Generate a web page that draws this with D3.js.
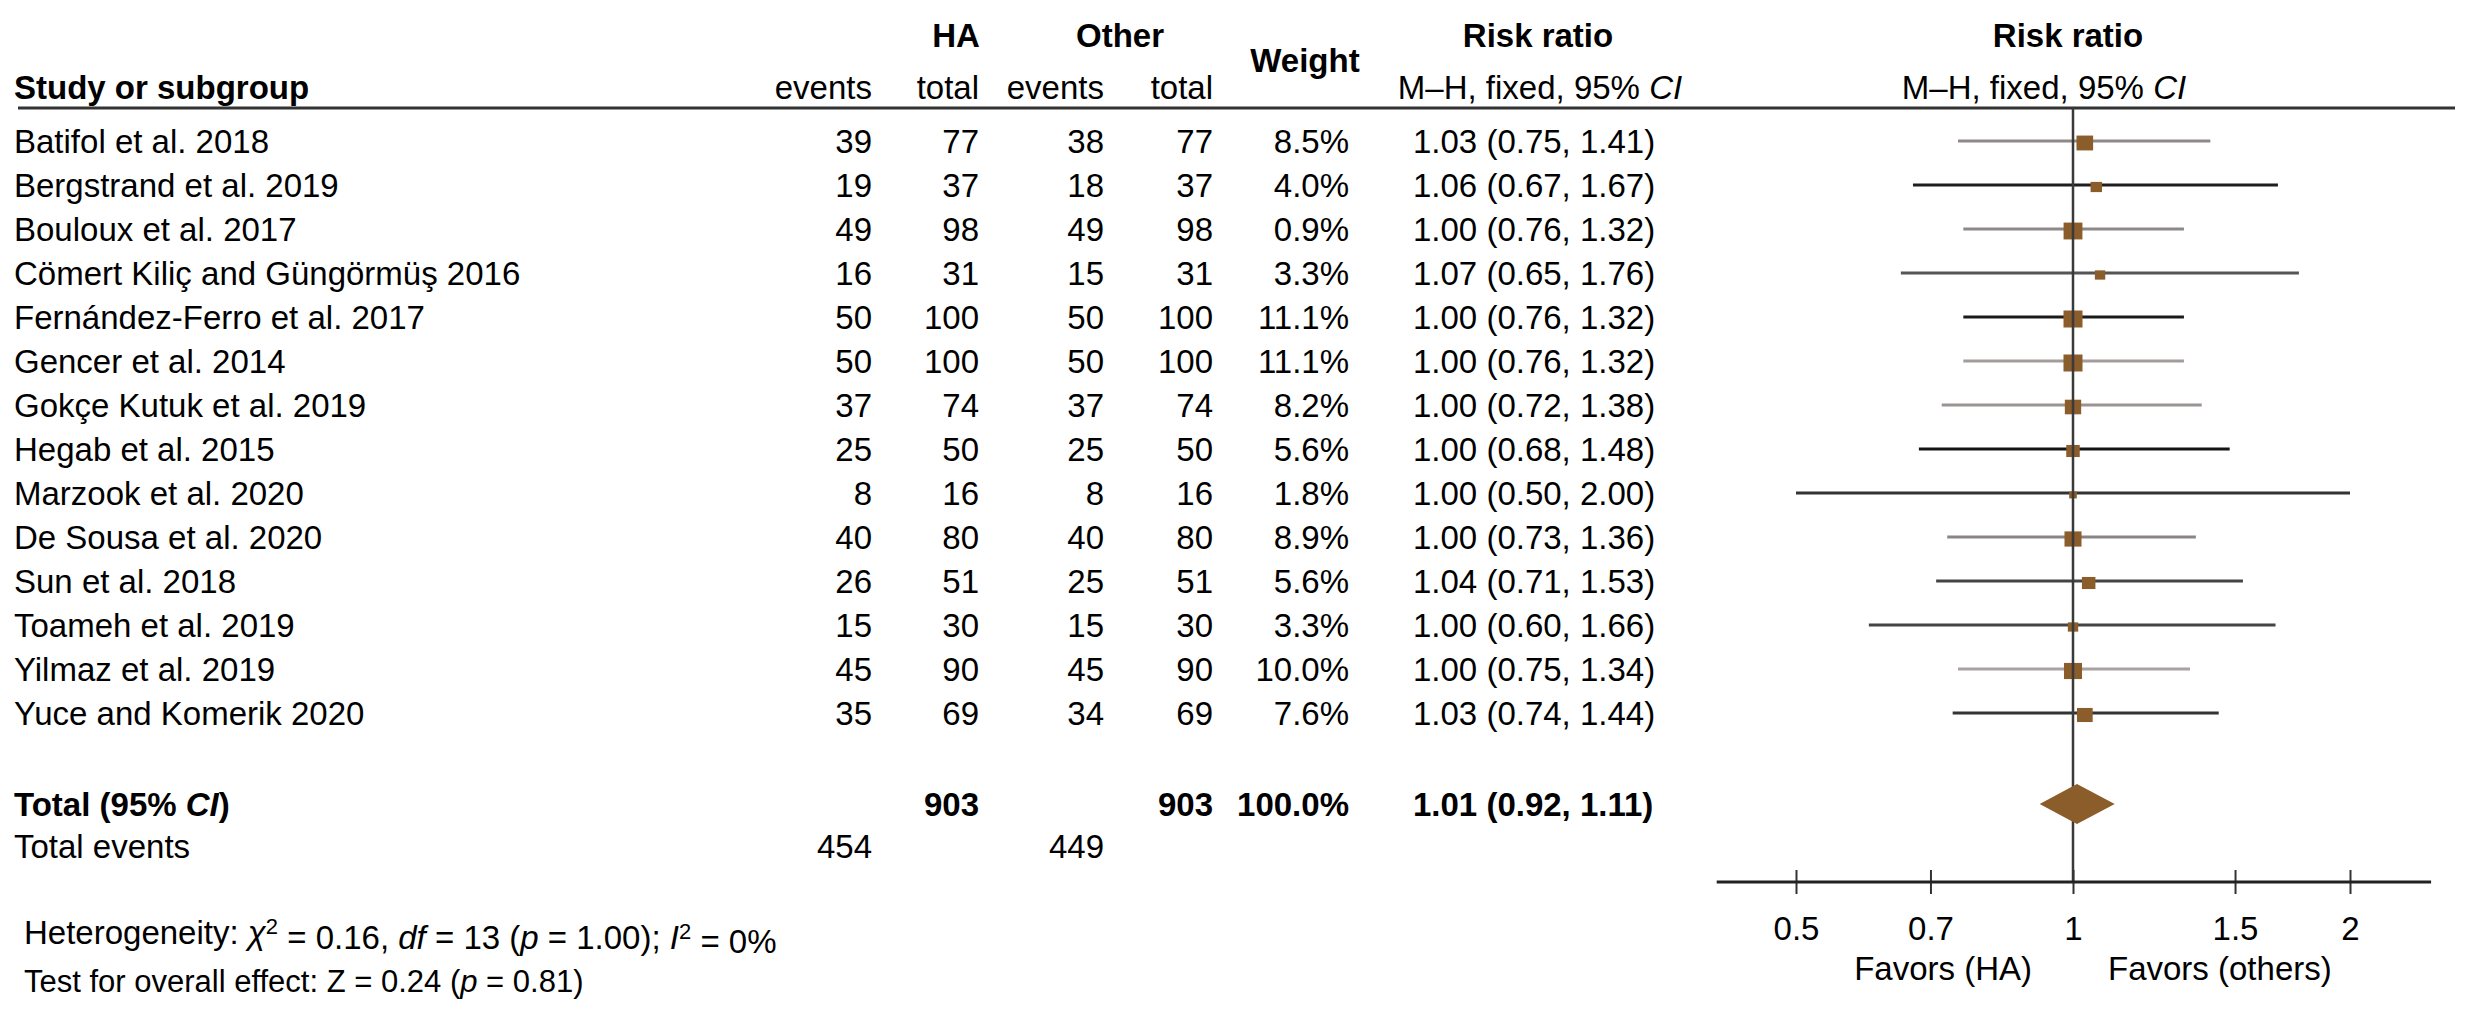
<!DOCTYPE html>
<html>
<head>
<meta charset="utf-8">
<script src="https://cdn.jsdelivr.net/npm/d3@7"></script>
<style>
  body { margin: 0; background: #fff; }
  svg { display: block; font-family: "Liberation Sans", Arial, sans-serif; }
</style>
</head>
<body>
<svg id="chart" width="2481" height="1012"></svg>
<script>
// study rows
var studies = ['Batifol et al. 2018', 'Bergstrand et al. 2019', 'Bouloux et al. 2017', 'Cömert Kiliç and Güngörmüş 2016',
  'Fernández-Ferro et al. 2017', 'Gencer et al. 2014', 'Gokçe Kutuk et al. 2019', 'Hegab et al. 2015', 'Marzook et al. 2020',
  'De Sousa et al. 2020', 'Sun et al. 2018', 'Toameh et al. 2019', 'Yilmaz et al. 2019', 'Yuce and Komerik 2020'];
var haEvents = [39, 19, 49, 16, 50, 50, 37, 25, 8, 40, 26, 15, 45, 35];
var haTotal = [77, 37, 98, 31, 100, 100, 74, 50, 16, 80, 51, 30, 90, 69];
var otherEvents = [38, 18, 49, 15, 50, 50, 37, 25, 8, 40, 25, 15, 45, 34];
var otherTotal = [77, 37, 98, 31, 100, 100, 74, 50, 16, 80, 51, 30, 90, 69];
var weights = [8.5, 4.0, 0.9, 3.3, 11.1, 11.1, 8.2, 5.6, 1.8, 8.9, 5.6, 3.3, 10.0, 7.6];
// weight the square is drawn with (Bouloux box is drawn large in the source)
var markerWeight = [8.5, 4.0, 10.9, 3.3, 11.1, 11.1, 8.2, 5.6, 1.8, 8.9, 5.6, 3.3, 10.0, 7.6];
var rr = [1.03, 1.06, 1.00, 1.07, 1.00, 1.00, 1.00, 1.00, 1.00, 1.00, 1.04, 1.00, 1.00, 1.03];
var rrLow = [0.75, 0.67, 0.76, 0.65, 0.76, 0.76, 0.72, 0.68, 0.50, 0.73, 0.71, 0.60, 0.75, 0.74];
var rrHigh = [1.41, 1.67, 1.32, 1.76, 1.32, 1.32, 1.38, 1.48, 2.00, 1.36, 1.53, 1.66, 1.34, 1.44];

// pooled result
var totalHA = 903, totalOther = 903, totalWeight = '100.0%';
var pooled = {rr: 1.01, lo: 0.92, hi: 1.11};
var eventsHA = 454, eventsOther = 449;

// axis
var tickValues = [0.5, 0.7, 1, 1.5, 2];
var axisExtent = [0.41, 2.45];

// line colours of the CI whiskers (style only)
var ciColors = ['#8e8888', '#1e1e1e', '#8e8888', '#555', '#1a1a1a', '#a39c9a', '#9a9492', '#141414',
  '#333', '#8a8484', '#444', '#444', '#aaa2a2', '#333'];

var brown = '#8a5d2b';
var fs = 33;
var svg = d3.select('#chart');

var rowY = d3.scaleLinear().domain([0, 1]).range([141, 185]);
var x = d3.scaleLog().domain([0.5, 2]).range([1796, 2350]);
var boxW = d3.scaleSqrt().domain([0, 11.1]).range([0, 19]);
var boxH = d3.scaleSqrt().domain([0, 11.1]).range([0, 17]);

var txt = (t, px, py, anchor, bold) => svg.append('text').attr('x', px).attr('y', py).attr('dy', '0.35em')
  .attr('text-anchor', anchor || 'start').style('font-size', fs + 'px').style('font-weight', bold ? 'bold' : 'normal').text(t);

// header
txt('HA', 956, 35, 'middle', true);
txt('Other', 1120, 35, 'middle', true);
txt('Weight', 1305, 60, 'middle', true);
txt('Risk ratio', 1538, 35, 'middle', true);
txt('Risk ratio', 2068, 35, 'middle', true);
txt('Study or subgroup', 14, 87, 'start', true);
txt('events', 872, 87, 'end');
txt('total', 979, 87, 'end');
txt('events', 1104, 87, 'end');
txt('total', 1213, 87, 'end');
[1540, 2044].forEach((cx) => {
  var t = txt('M\u2013H, fixed, 95% ', cx, 87, 'middle');
  t.append('tspan').style('font-style', 'italic').text('CI');
});

svg.append('line').attr('x1', 18).attr('x2', 2455).attr('y1', 108).attr('y2', 108)
  .style('stroke', '#333').style('stroke-width', 3);

// table rows
var rows = svg.selectAll('g.row').data(studies).enter().append('g').attr('class', 'row');
studies.forEach((s, i) => {
  var y = rowY(i);
  txt(s, 14, y);
  txt(haEvents[i], 872, y, 'end');
  txt(haTotal[i], 979, y, 'end');
  txt(otherEvents[i], 1104, y, 'end');
  txt(otherTotal[i], 1213, y, 'end');
  txt(weights[i].toFixed(1) + '%', 1349, y, 'end');
  txt(rr[i].toFixed(2) + ' (' + rrLow[i].toFixed(2) + ', ' + rrHigh[i].toFixed(2) + ')', 1413, y, 'start');
});

// reference line at 1
svg.append('line').attr('x1', x(1)).attr('x2', x(1)).attr('y1', 108).attr('y2', 882)
  .style('stroke', '#3a3a3a').style('stroke-width', 2.5);

// whiskers + boxes
rows.append('line').attr('x1', (d, i) => x(rrLow[i])).attr('x2', (d, i) => x(rrHigh[i]))
  .attr('y1', (d, i) => rowY(i)).attr('y2', (d, i) => rowY(i))
  .style('stroke', (d, i) => ciColors[i]).style('stroke-width', 3.2);
rows.append('rect')
  .attr('x', (d, i) => x(rr[i]) - boxW(markerWeight[i]) / 2)
  .attr('y', (d, i) => rowY(i) - boxH(markerWeight[i]) / 2 + 2)
  .attr('width', (d, i) => boxW(markerWeight[i]))
  .attr('height', (d, i) => boxH(markerWeight[i]))
  .style('fill', brown);

// total row
var yTot = 804;
var tt = txt('Total (95% ', 14, yTot, 'start', true);
tt.append('tspan').style('font-style', 'italic').text('CI');
tt.append('tspan').text(')');
txt(totalHA, 979, yTot, 'end', true);
txt(totalOther, 1213, yTot, 'end', true);
txt(totalWeight, 1349, yTot, 'end', true);
txt(pooled.rr.toFixed(2) + ' (' + pooled.lo.toFixed(2) + ', ' + pooled.hi.toFixed(2) + ')', 1413, yTot, 'start', true);

var diamond = [[pooled.lo, 0], [pooled.rr, -20], [pooled.hi, 0], [pooled.rr, 20]];
svg.append('path').datum(diamond)
  .attr('d', d3.line().x((d) => x(d[0])).y((d) => yTot + d[1]).curve(d3.curveLinearClosed))
  .style('fill', brown);

txt('Total events', 14, 846);
txt(eventsHA, 872, 846, 'end');
txt(eventsOther, 1104, 846, 'end');

// axis
var axisY = 882;
var axisG = svg.append('g').attr('transform', 'translate(0,' + axisY + ')')
  .call(d3.axisBottom(x).tickValues(tickValues).tickFormat((d) => d).tickSizeOuter(0));
axisG.select('.domain').remove();
axisG.append('line').attr('x1', x(axisExtent[0])).attr('x2', x(axisExtent[1]))
  .style('stroke', '#222').style('stroke-width', 3);
axisG.selectAll('.tick line').attr('y1', -12).attr('y2', 12).style('stroke', '#333').style('stroke-width', 2);
axisG.selectAll('.tick text').attr('y', 46).attr('dy', '0.35em').style('font-size', fs + 'px')
  .style('font-family', '"Liberation Sans", Arial, sans-serif').style('fill', '#000');

txt('Favors (HA)', 2032, 968, 'end');
txt('Favors (others)', 2108, 968, 'start');

// footnotes
var het = txt('Heterogeneity: ', 24, 932);
het.append('tspan').style('font-style', 'italic').text('\u03c7');
het.append('tspan').attr('dy', '-0.45em').style('font-size', '22px').text('2');
het.append('tspan').attr('dy', '0.45em').text(' = 0.16, ');
het.append('tspan').style('font-style', 'italic').text('df');
het.append('tspan').text(' = 13 (');
het.append('tspan').style('font-style', 'italic').text('p');
het.append('tspan').text(' = 1.00); ');
het.append('tspan').style('font-style', 'italic').text('I');
het.append('tspan').attr('dy', '-0.45em').style('font-size', '22px').text('2');
het.append('tspan').attr('dy', '0.45em').text(' = 0%');

var test = txt('Test for overall effect: Z = 0.24 (', 24, 981).style('font-size', '31px');
test.append('tspan').style('font-style', 'italic').text('p');
test.append('tspan').text(' = 0.81)');
</script>
</body>
</html>
